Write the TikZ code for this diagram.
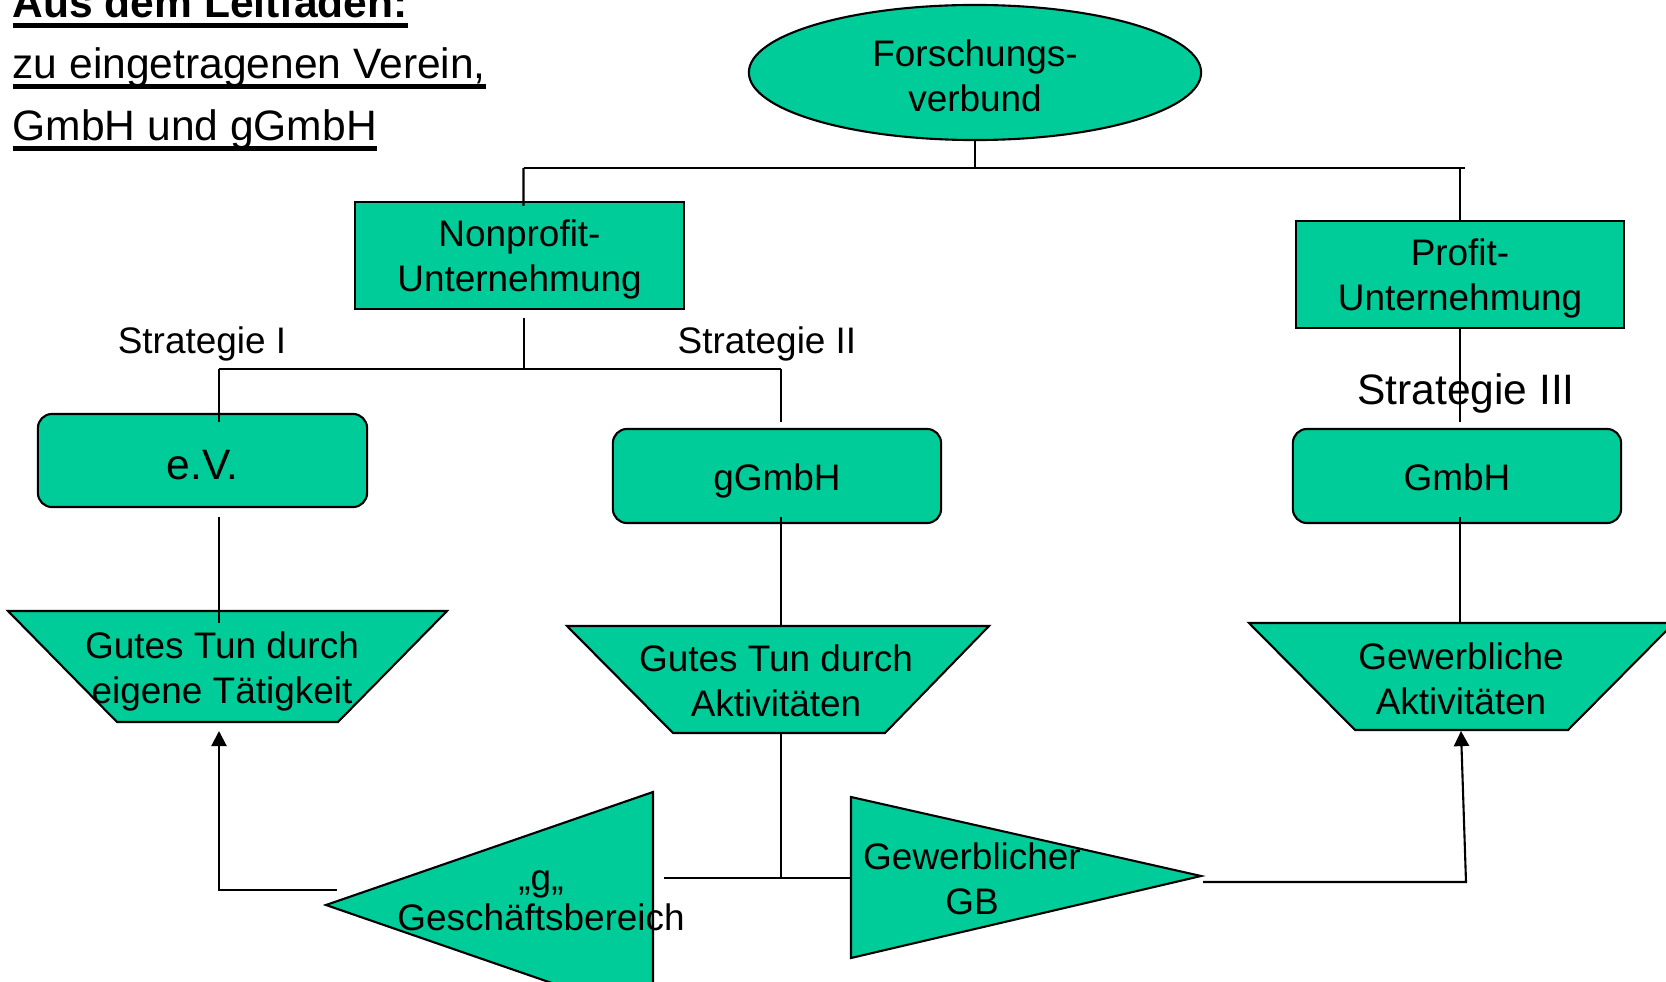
\documentclass[tikz,border=0pt]{standalone}
\usepackage{fontspec}
\setmainfont{Liberation Sans}
\usetikzlibrary{shapes.geometric,arrows.meta,calc}
\definecolor{fillg}{RGB}{0,204,153}
\newcommand{\myBody}{\fontsize{10.5pt}{12.8pt}\selectfont}
\newcommand{\myLarge}{\fontsize{12.1pt}{17.6pt}\selectfont}
\newcommand{\myul}[1]{\begingroup\setbox0=\hbox{#1}\rlap{\vrule height -1.5pt depth 2.75pt width \wd0}\box0\endgroup}
\tikzset{
  box/.style={draw, fill=fillg, line width=0.6pt, inner sep=0pt, align=center, font=\myBody,
              minimum width=3.28cm, minimum height=1.07cm, text depth=0pt},
  rbox/.style={box, rounded corners=4pt, minimum height=0.94cm, text height=8.2pt, text depth=0pt},
  ell/.style={draw, fill=fillg, line width=0.6pt, ellipse, inner sep=0pt, align=center, font=\myBody,
              minimum width=4.52cm, minimum height=1.35cm, text height=22.2pt},
  shp/.style={draw, fill=fillg, line width=0.6pt, line join=miter},
  lbl/.style={inner sep=0pt, align=center, font=\myBody},
  conn/.style={line width=0.6pt},
  arr/.style={conn, -{Triangle[length=4.3pt,width=4.3pt]}},
  ttl/.style={inner sep=0pt, anchor=base west, font=\myLarge}
}
\begin{document}
\begin{tikzpicture}[x=0.01cm, y=-0.01cm]
\useasboundingbox (0,0) rectangle (1666,982);
\fill[white] (0,0) rectangle (1666,982);
\clip (0,0) rectangle (1666,982);

% title
\node[ttl] (h1) at (12,18) {\myul{\bfseries Aus dem Leitfaden:}};
\node[ttl] (h2) at (12,79) {\myul{zu eingetragenen Verein,}};
\node[ttl] (h3) at (12,141) {\myul{GmbH und gGmbH}};

% top level
\node[ell] (fv) at (975,72.5) {Forschungs-\\verbund};
\node[box] (np) at (519.5,255.5) {Nonprofit-\\Unternehmung};
\node[box] (pu) at (1460,274.5) {Profit-\\Unternehmung};

% legal forms
\node[rbox, minimum width=3.29cm, minimum height=0.93cm, font=\myLarge, text height=10.9pt] (ev) at (202.5,460.5) {e.V.};
\node[rbox] (gg) at (777,476) {gGmbH};
\node[rbox] (gm) at (1457,476) {GmbH};

% trapezoids
\path[shp] (8,611) -- (447,611) -- (338,722) -- (117,722) -- cycle;
\path[shp] (567,626) -- (989,626) -- (885,733) -- (673,733) -- cycle;
\path[shp] (1249,623) -- (1674,623) -- (1568,730) -- (1355,730) -- cycle;
\coordinate (t1top) at (219,611); \coordinate (t1bot) at (219,722);
\coordinate (t2top) at (781,626); \coordinate (t2bot) at (781,733);
\coordinate (t3top) at (1460,623); \coordinate (t3bot) at (1461,730);

% triangles
\path[shp] (326,905) -- (653,792) -- (653,1018) -- cycle;
\path[shp] (851,797) -- (1201,876) -- (851,958) -- cycle;

% connectors
\coordinate (busy) at (0,168);
\draw[conn] (fv.south) -- (fv.south |- busy);
\draw[conn] ([xshift=0.04cm]np.north |- busy) -- ([xshift=0.05cm]pu.north |- busy);
\draw[conn] ([xshift=0.04cm]np.north |- busy) -- ($(np.north)+(4,5)$);
\draw[conn] (pu.north |- busy) -- (pu.north);
\draw[conn] (pu.south) -- ($(gm.north)+(3,-6)$);

\coordinate (b2L) at (219,369);
\coordinate (b2M) at (524,369);
\coordinate (b2R) at (781,369);
\draw[conn] ($(np.south)+(4.5,8)$) -- (b2M);
\draw[conn] (b2L) -- (b2R);
\draw[conn] (b2L) -- ($(ev.north)+(16.5,9)$);
\draw[conn] (b2R) -- ($(gg.north)+(4,-6)$);

\draw[conn] ($(ev.south)+(16.5,9)$) -- ($(t1top)+(0,12)$);
\draw[conn] ($(gg.south)+(4,-7)$) -- (t2top);
\draw[conn] ($(gm.south)+(3,-7)$) -- (t3top);

\coordinate (jn) at (781,878);
\coordinate (gR) at (664,878);
\coordinate (gbL) at (850,878);
\draw[conn] (t2bot) -- (jn);
\draw[conn] (gR) -- (gbL);

\coordinate (gL) at (337,890);
\draw[arr] (gL) -| ($(t1bot)+(0,9)$);

\coordinate (gbR) at (1203,882);
\coordinate (gbC) at (1466,882);
\draw[arr] (gbR) -- (gbC) -- ($(t3bot)+(0,1)$);

% texts
\node[lbl] (s1) at (202,344) {Strategie I};
\node[lbl] (s2) at (767,344) {Strategie II};
\node[lbl, font=\myLarge] (s3) at (1466,393) {Strategie III};
\node[lbl] (t1) at (222,671) {Gutes Tun durch\\eigene Tätigkeit};
\node[lbl] (t2) at (776,681) {Gutes Tun durch\\Aktivitäten};
\node[lbl] (t3) at (1461,679) {Gewerbliche\\Aktivitäten};
\node[lbl, font=\fontsize{10.5pt}{11.3pt}\selectfont] (gt) at (541,901) {„g„\\Geschäftsbereich};
\node[lbl] (gbt) at (972,879) {Gewerblicher\\GB};
\end{tikzpicture}
\end{document}
